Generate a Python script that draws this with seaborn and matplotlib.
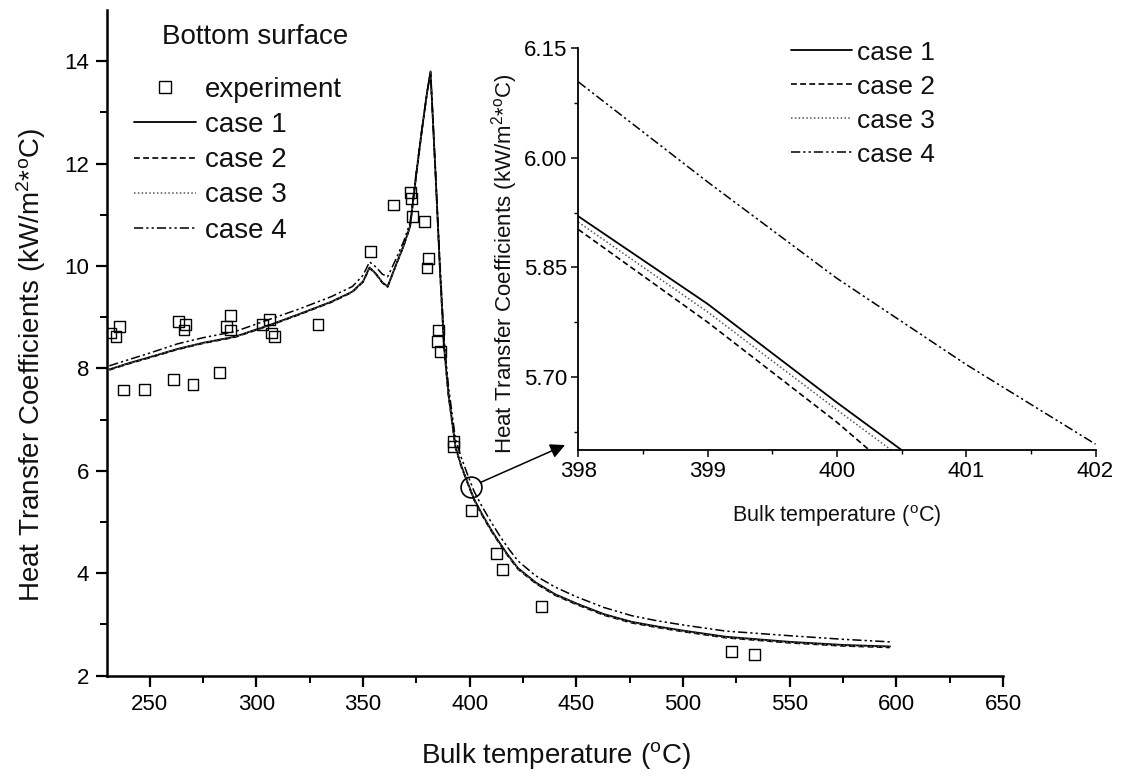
import matplotlib
matplotlib.use('Agg')
import matplotlib.pyplot as plt
import seaborn as sns
from matplotlib.lines import Line2D
from matplotlib.ticker import MultipleLocator, FormatStrFormatter

# simulated curves (bulk temperature in C, HTC in kW/m2C)
T_sim = [231, 240, 250, 263, 275, 290, 307, 320, 335, 345, 350, 353, 356, 359,
         361.5, 365, 369, 372, 375, 377.5, 380, 381.6, 384, 386, 388, 390, 393.3,
         396, 399.2, 402, 405.8, 410, 414.2, 418, 422.6, 430.9, 440, 450, 463,
         476, 488, 500, 520, 550, 575, 597]
case1 = [7.98, 8.10, 8.22, 8.38, 8.50, 8.62, 8.86, 9.06, 9.30, 9.50, 9.70, 9.97,
         9.85, 9.68, 9.60, 9.98, 10.40, 10.77, 11.82, 12.64, 13.40, 13.80, 11.75,
         9.95, 8.40, 7.50, 6.47, 6.10, 5.75, 5.45, 5.15, 4.85, 4.58, 4.35, 4.10,
         3.82, 3.59, 3.41, 3.20, 3.05, 2.96, 2.88, 2.76, 2.66, 2.60, 2.57]
case2 = [7.97, 8.09, 8.21, 8.37, 8.49, 8.61, 8.85, 9.05, 9.29, 9.49, 9.69, 9.96,
         9.84, 9.67, 9.59, 9.97, 10.39, 10.76, 11.81, 12.63, 13.39, 13.79, 11.73,
         9.93, 8.38, 7.48, 6.45, 6.08, 5.73, 5.43, 5.13, 4.83, 4.56, 4.33, 4.08,
         3.80, 3.57, 3.39, 3.18, 3.03, 2.94, 2.86, 2.74, 2.64, 2.58, 2.55]
case3 = [7.98, 8.10, 8.22, 8.38, 8.50, 8.62, 8.86, 9.06, 9.30, 9.50, 9.70, 9.97,
         9.85, 9.68, 9.60, 9.98, 10.40, 10.77, 11.82, 12.64, 13.40, 13.79, 11.74,
         9.94, 8.39, 7.49, 6.46, 6.09, 5.74, 5.44, 5.14, 4.84, 4.57, 4.34, 4.09,
         3.81, 3.58, 3.40, 3.19, 3.04, 2.95, 2.87, 2.75, 2.65, 2.59, 2.56]
case4 = [8.05, 8.17, 8.30, 8.48, 8.60, 8.72, 8.97, 9.16, 9.40, 9.60, 9.82, 10.08,
         9.98, 9.84, 9.79, 10.10, 10.48, 10.84, 11.86, 12.66, 13.40, 13.77, 11.80,
         10.05, 8.55, 7.65, 6.62, 6.26, 5.90, 5.60, 5.30, 5.00, 4.72, 4.49, 4.24,
         3.95, 3.73, 3.54, 3.33, 3.17, 3.07, 2.99, 2.87, 2.78, 2.71, 2.66]

# experiment
exp_T = [231.7, 234.2, 235.9, 237.6, 247.6, 261.0, 263.5, 266.0, 266.9, 270.2,
         282.7, 286.1, 287.8, 287.8, 302.8, 306.2, 307.0, 308.4, 328.8, 353.6,
         364.3, 372.3, 372.7, 373.2, 378.7, 380.7, 379.9, 385.4, 384.9, 386.1,
         392.4, 392.5, 400.9, 412.6, 415.5, 433.7, 522.6, 533.4]
exp_h = [8.69, 8.62, 8.82, 7.58, 7.59, 7.78, 8.91, 8.75, 8.85, 7.68,
         7.92, 8.82, 9.04, 8.75, 8.85, 8.95, 8.69, 8.62, 8.85, 10.28,
         11.19, 11.43, 11.32, 10.96, 10.87, 10.15, 9.96, 8.75, 8.52, 8.33,
         6.57, 6.47, 5.22, 4.39, 4.08, 3.35, 2.47, 2.42]

# zoomed region
ins_T1 = [398, 399, 400, 400.5]
ins_h1 = [5.920, 5.800, 5.665, 5.600]
ins_T2 = [398, 399, 400, 400.25]
ins_h2 = [5.902, 5.775, 5.638, 5.600]
ins_T3 = [398, 399, 400, 400.42]
ins_h3 = [5.912, 5.789, 5.655, 5.600]
ins_T4 = [398, 399, 400, 401, 402]
ins_h4 = [6.104, 5.967, 5.835, 5.717, 5.608]

zoom_pt = (400.5, 5.69)

sns.set_theme(style='ticks', rc={'axes.edgecolor': 'black', 'xtick.color': 'black',
                                 'ytick.color': 'black', 'text.color': '#111111',
                                 'axes.labelcolor': '#111111'})
plt.rcParams['font.family'] = ['Liberation Sans', 'DejaVu Sans']
plt.rcParams['mathtext.fontset'] = 'custom'
plt.rcParams['mathtext.rm'] = 'Liberation Sans'
plt.rcParams['mathtext.it'] = 'Liberation Sans:italic'

styles = {
    'case 1': dict(linestyle='-', color='black', lw=1.3),
    'case 2': dict(linestyle=(0, (3.5, 2)), color='black', lw=1.2),
    'case 3': dict(linestyle=(0, (1, 1.5)), color='#555555', lw=1.1),
    'case 4': dict(linestyle=(0, (6, 2, 1.5, 2, 1.5, 2)), color='black', lw=1.1),
}

fig = plt.figure(figsize=(11.22, 7.76), dpi=100)
ax = fig.add_axes([0.0955, 0.1293, 0.7985, 0.8579])

for name, h in zip(['case 1', 'case 2', 'case 3', 'case 4'], [case1, case2, case3, case4]):
    sns.lineplot(x=T_sim, y=h, ax=ax, sort=False, **styles[name])
sns.scatterplot(x=exp_T, y=exp_h, ax=ax, marker='s', s=60, facecolor='none',
                edgecolor='black', linewidth=1.0, zorder=3)

ax.set_xlim(230, 650)
ax.set_ylim(2, 15)
ax.set_xticks(range(250, 651, 50))
ax.xaxis.set_minor_locator(MultipleLocator(25))
ax.set_yticks(range(2, 15, 2))
ax.set_yticks(range(3, 14, 2), minor=True)
ax.tick_params(which='major', length=8, width=1.6, labelsize=16, pad=5)
ax.tick_params(which='minor', length=5, width=1.4)
for s in ['left', 'bottom']:
    ax.spines[s].set_linewidth(1.8)
sns.despine(ax=ax)

ax.set_xlabel(r'Bulk temperature ($^\mathrm{o}$C)', fontsize=20)
ax.set_ylabel(r'Heat Transfer Coefficients (kW/m$^2$*$^\mathrm{o}$C)', fontsize=20)
ax.xaxis.set_label_coords(0.501, -0.096)
ax.yaxis.set_label_coords(-0.066, 0.467)

# circle + arrow to the zoom
ax.plot([zoom_pt[0]], [zoom_pt[1]], marker='o', ms=15, mfc='none', mec='black', mew=1.2)
ax.annotate('', xy=(0.5036, 0.4265), xycoords='figure fraction',
            xytext=zoom_pt, textcoords='data',
            arrowprops=dict(arrowstyle='-|>', color='black', lw=1.1,
                            mutation_scale=22, shrinkA=7.5, shrinkB=0))

handles = [Line2D([], [], marker='s', ms=8, mfc='none', mec='black', mew=1.0, ls='none')]
handles += [Line2D([], [], **styles[n]) for n in styles]
labels = ['experiment'] + list(styles)
ax.legend(handles, labels, loc='upper left', bbox_to_anchor=(134 / 1122, 1 - 77 / 776),
          bbox_transform=fig.transFigure, frameon=False, fontsize=20,
          handlelength=2.23, handletextpad=0.32, labelspacing=0.33,
          borderpad=0, borderaxespad=0)
fig.text(162 / 1122, 1 - 37.3 / 776, 'Bottom surface', fontsize=20, va='center', ha='left')

# inset
axi = fig.add_axes([0.5154, 0.4201, 0.4610, 0.5177])
for name, (tx, hy) in zip(styles, [(ins_T1, ins_h1), (ins_T2, ins_h2),
                                   (ins_T3, ins_h3), (ins_T4, ins_h4)]):
    sns.lineplot(x=tx, y=hy, ax=axi, sort=False, label=name, **styles[name])
axi.set_xlim(398, 402)
axi.set_ylim(5.60, 6.15)
axi.set_xticks([398, 399, 400, 401, 402])
axi.xaxis.set_minor_locator(MultipleLocator(0.5))
axi.set_yticks([5.70, 5.85, 6.00, 6.15])
axi.yaxis.set_minor_locator(MultipleLocator(0.075))
axi.yaxis.set_major_formatter(FormatStrFormatter('%.2f'))
axi.tick_params(which='major', length=5, width=1.1, labelsize=16, pad=3)
axi.tick_params(which='minor', length=3, width=1.0)
for s in ['left', 'bottom']:
    axi.spines[s].set_linewidth(1.3)
sns.despine(ax=axi)
axi.set_xlabel(r'Bulk temperature ($^\mathrm{o}$C)', fontsize=15.5)
axi.set_ylabel(r'Heat Transfer Coefficients (kW/m$^2$*$^\mathrm{o}$C)', fontsize=16)
axi.xaxis.set_label_coords(0.5, -0.132)
axi.yaxis.set_label_coords(-0.113, 0.463)
axi.patch.set_alpha(0)
axi.legend(loc='upper left', bbox_to_anchor=(791 / 1122, 1 - 40.5 / 776),
           bbox_transform=fig.transFigure, frameon=False, fontsize=19,
           handlelength=2.3, handletextpad=0.2, labelspacing=0.38,
           borderpad=0, borderaxespad=0)

fig.savefig('out.png', dpi=100, facecolor='white')
